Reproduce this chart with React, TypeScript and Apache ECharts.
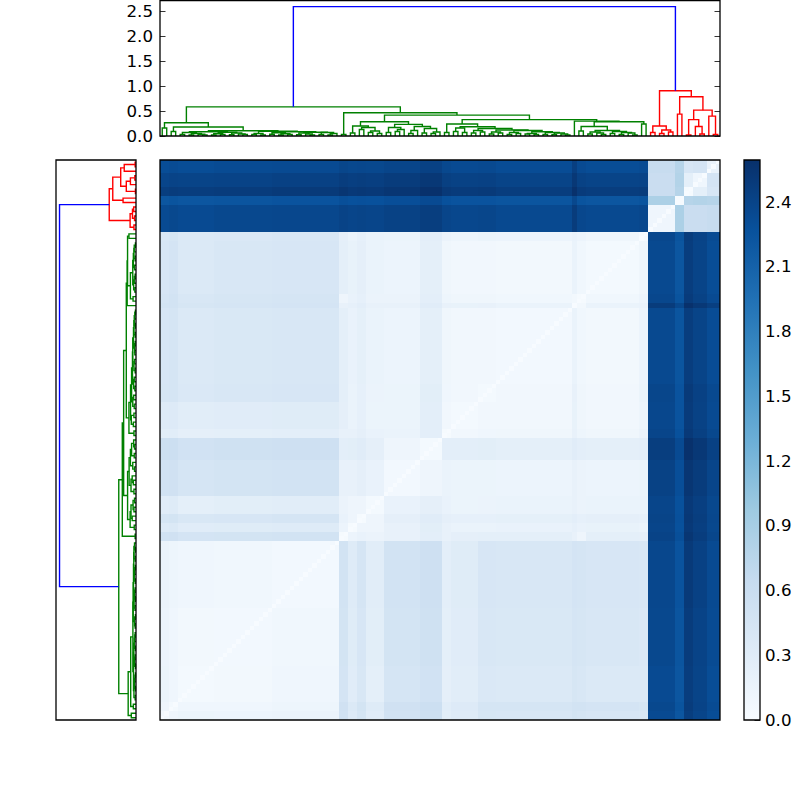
import React, { useEffect, useRef } from "react";
import * as echarts from "echarts";

type Node = 0 | [number, Node, Node];

// ---- Dendrogram merges [height, left, right]; 0 is a leaf ----
const clusterA: Node = [0.266, [0.16, 0, 0], [0.18, [0.09, 0, 0], [0.105,
  [0.085, [0.07, [0.03, 0, 0], [0.05, [0.02, 0, 0], [0.035, 0, [0.02, 0, 0]]]],
    [0.075, [0.045, [0.02, 0, 0], [0.03, 0, 0]], [0.06, [0.025, 0, 0], [0.04, 0, [0.03, 0, 0]]]]],
  [0.095, [0.05, [0.03, 0, 0], [0.02, 0, 0]], [0.085,
    [0.065, [0.035, 0, 0], [0.045, [0.02, 0, 0], [0.03, 0, 0]]],
    [0.075, [0.06, [0.025, 0, 0], [0.04, 0, [0.02, 0, 0]]], [0.07, [0.03, 0, 0], [0.05, [0.02, 0, 0], 0]]]]],
]]];
const clusterBLeft: Node = [0.286,
  [0.2, [0.06, 0, 0], [0.17, [0.13, 0, 0], [0.1, [0.07, 0, 0], [0.05, 0, 0]]]],
  [0.234, [0.17, [0.07, 0, 0], [0.13, [0.09, 0, 0], 0]],
    [0.19, [0.11, [0.05, 0, 0], 0], [0.15, [0.06, 0, 0], [0.08, [0.05, 0, 0], 0]]]],
];
const clusterBMid: Node = [0.24, [0.07, 0, 0], [0.185,
  [0.16, [0.09, 0, 0], [0.07, 0, 0]],
  [0.15, [0.11, [0.06, 0, 0], [0.08, 0, 0]],
    [0.12, [0.08, [0.04, 0, 0], [0.06, 0, 0]],
      [0.11, [0.07, [0.03, 0, 0], [0.05, 0, 0]],
        [0.085, [0.05, [0.04, 0, 0], [0.03, 0, 0]],
          [0.07, [0.03, 0, 0], [0.06, [0.025, 0, 0], [0.04, 0, [0.02, 0, 0]]]]]]]],
]];
const clusterBRight: Node = [0.3, 0, [0.287,
  [0.19, [0.1, 0, 0], [0.11,
    [0.08, [0.04, 0, 0], [0.06, 0, [0.03, 0, 0]]],
    [0.09, [0.05, 0, 0], [0.07, [0.03, 0, 0], [0.06, 0, [0.02, 0, 0]]]]]],
  [0.24, 0, 0],
]];
const clusterB: Node = [0.466, [0.03, 0, 0], [0.42, clusterBLeft, [0.33, clusterBMid, clusterBRight]]];
const greenTree: Node = [0.586, clusterA, clusterB];
const redTree: Node = [0.91,
  [0.2, [0.07, 0, 0], [0.12, [0.05, 0, 0], [0.08, 0, 0]]],
  [0.79, [0.44, 0, 0], [0.52,
    [0.33, [0.02, 0, 0], [0.19, 0, [0.04, 0, 0]]],
    [0.4, 0, [0.03, 0, 0]]]],
];
const rootHeight = 2.6;

// ---- Distance matrix: number of leaves in each run, and the reading for each pair of runs ----
const runLengths = [2, 2, 8, 13, 15, 2, 2, 2, 4, 8, 5, 2, 6, 4, 17, 1, 2, 12, 2, 6, 2, 2, 3, 3];
const runTable = [
  [0.06],
  [0.12, 0.05],
  [0.15, 0.1, 0.05],
  [0.14, 0.1, 0.07, 0.06],
  [0.16, 0.13, 0.1, 0.09, 0.06],
  [0.5, 0.52, 0.46, 0.47, 0.49, 0.03],
  [0.34, 0.36, 0.3, 0.31, 0.33, 0.14, 0.03],
  [0.45, 0.47, 0.41, 0.42, 0.44, 0.18, 0.12, 0.03],
  [0.3, 0.32, 0.25, 0.27, 0.29, 0.16, 0.12, 0.12, 0.05],
  [0.5, 0.52, 0.44, 0.47, 0.49, 0.2, 0.2, 0.24, 0.18, 0.06],
  [0.55, 0.57, 0.5, 0.53, 0.54, 0.26, 0.27, 0.3, 0.24, 0.12, 0.05],
  [0.27, 0.29, 0.24, 0.25, 0.26, 0.2, 0.2, 0.24, 0.18, 0.17, 0.26, 0.03],
  [0.32, 0.34, 0.28, 0.3, 0.31, 0.24, 0.17, 0.22, 0.15, 0.15, 0.26, 0.08, 0.05],
  [0.43, 0.45, 0.38, 0.4, 0.42, 0.25, 0.17, 0.22, 0.16, 0.15, 0.27, 0.1, 0.08, 0.05],
  [0.42, 0.45, 0.37, 0.39, 0.41, 0.25, 0.18, 0.23, 0.17, 0.14, 0.25, 0.11, 0.08, 0.08, 0.06],
  [0.47, 0.49, 0.43, 0.45, 0.46, 0.2, 0.22, 0.26, 0.2, 0.2, 0.3, 0.2, 0.19, 0.2, 0.17, 0.02],
  [0.45, 0.48, 0.4, 0.43, 0.44, 0.12, 0.18, 0.22, 0.16, 0.16, 0.26, 0.13, 0.11, 0.11, 0.09, 0.07, 0.03],
  [0.42, 0.46, 0.37, 0.4, 0.42, 0.25, 0.19, 0.24, 0.17, 0.14, 0.25, 0.11, 0.08, 0.08, 0.07, 0.17, 0.09, 0.05],
  [0.4, 0.43, 0.36, 0.38, 0.4, 0.24, 0.17, 0.22, 0.17, 0.15, 0.26, 0.16, 0.13, 0.15, 0.14, 0.18, 0.14, 0.11, 0.04],
  [2.34, 2.36, 2.34, 2.36, 2.37, 2.41, 2.39, 2.4, 2.39, 2.42, 2.46, 2.39, 2.37, 2.38, 2.35, 2.48, 2.37, 2.35, 2.37, 0.1],
  [2.22, 2.24, 2.22, 2.23, 2.25, 2.29, 2.27, 2.28, 2.27, 2.3, 2.34, 2.27, 2.25, 2.25, 2.23, 2.36, 2.24, 2.22, 2.24, 0.86, 0.03],
  [2.46, 2.48, 2.47, 2.48, 2.5, 2.54, 2.51, 2.52, 2.51, 2.54, 2.59, 2.51, 2.49, 2.5, 2.47, 2.59, 2.49, 2.47, 2.48, 0.6, 0.78, 0.03],
  [2.39, 2.41, 2.4, 2.41, 2.43, 2.47, 2.45, 2.46, 2.45, 2.48, 2.52, 2.44, 2.42, 2.43, 2.4, 2.52, 2.42, 2.4, 2.41, 0.6, 0.8, 0.25, 0.1],
  [2.31, 2.33, 2.31, 2.33, 2.34, 2.38, 2.36, 2.37, 2.36, 2.39, 2.43, 2.36, 2.34, 2.35, 2.32, 2.45, 2.34, 2.31, 2.33, 0.63, 0.78, 0.42, 0.46, 0.18],
];
const maxDistance = 2.595;
const dendroMax = 2.72;
const blues = ["#f7fbff", "#deebf7", "#c6dbef", "#9ecae1", "#6baed6", "#4292c6", "#2171b5", "#08519c", "#08306b"];

// ---- Assemble ----
const runOfLeaf: number[] = runLengths.flatMap((n, run) => Array<number>(n).fill(run));
const leafCount = runOfLeaf.length;
const cells: number[][] = [];
for (let i = 0; i < leafCount; i++) {
  for (let j = 0; j < leafCount; j++) {
    const a = Math.max(runOfLeaf[i], runOfLeaf[j]);
    const b = Math.min(runOfLeaf[i], runOfLeaf[j]);
    cells.push([i, j, i === j ? 0 : runTable[a][b]]);
  }
}

type Link = [number, number, number, number, number];
function collect(): { green: Link[]; red: Link[]; blue: Link[] } {
  let next = 0;
  const walk = (n: Node, out: Link[]): [number, number] => {
    if (n === 0) return [next++ + 0.5, 0];
    const l = walk(n[1], out);
    const r = walk(n[2], out);
    out.push([l[0], l[1], r[0], r[1], n[0]]);
    return [(l[0] + r[0]) / 2, n[0]];
  };
  const green: Link[] = [];
  const red: Link[] = [];
  const g = walk(greenTree, green);
  const r = walk(redTree, red);
  return { green, red, blue: [[g[0], g[1], r[0], r[1], rootHeight]] };
}

const FONT = "DejaVu Sans";
const FONT_SIZE = 16.67;
const TICK = 5.5;
const LINE = 1.4;

function dendroSeries(links: Link[], color: string, axis: number, vertical: boolean) {
  return {
    type: "custom",
    xAxisIndex: axis,
    yAxisIndex: axis,
    silent: true,
    clip: false,
    data: links,
    renderItem: (_: unknown, api: any) => {
      const at = (leaf: number, h: number) => (vertical ? api.coord([leaf, h]) : api.coord([h, leaf]));
      const [x1, h1, x2, h2, h] = [0, 1, 2, 3, 4].map((d) => api.value(d));
      return {
        type: "polyline",
        shape: { points: [at(x1, h1), at(x1, h), at(x2, h), at(x2, h2)] },
        style: { fill: null, stroke: color, lineWidth: LINE },
      };
    },
  };
}

export default function App() {
  const ref = useRef<HTMLDivElement>(null);
  useEffect(() => {
    const chart = echarts.init(ref.current!, undefined, { renderer: "svg", width: 800, height: 800 });
    const { green, red, blue } = collect();
    const label = { fontFamily: FONT, fontSize: FONT_SIZE, color: "#000" };
    const tick = { show: true, inside: true, length: TICK, lineStyle: { color: "#000", width: 0.8 } };
    const noLine = { show: false, onZero: false };
    const frames = [
      { x: 160, y: 0.7, width: 560, height: 135.3 },
      { x: 56, y: 160, width: 80, height: 560 },
      { x: 160, y: 160, width: 560, height: 560 },
      { x: 744, y: 160, width: 16, height: 560 },
    ];
    chart.setOption({
      animation: false,
      backgroundColor: "#fff",
      progressive: 0,
      grid: [
        { left: 160, top: 0.7, width: 560, height: 135.3 },
        { left: 56, top: 160, width: 80, height: 560 },
        { left: 160, top: 160, width: 560, height: 560 },
        { left: 744, top: 160, width: 16, height: 560 },
      ],
      xAxis: [
        { type: "value", gridIndex: 0, min: 0, max: leafCount, show: false },
        { type: "value", gridIndex: 1, min: 0, max: dendroMax, inverse: true, show: false },
        { type: "value", gridIndex: 2, min: 0, max: leafCount, show: false },
        { type: "category", gridIndex: 3, data: ["bar"], show: false },
        { type: "value", gridIndex: 0, min: 0, max: leafCount, show: false },
      ],
      yAxis: [
        {
          type: "value", gridIndex: 0, min: 0, max: dendroMax, interval: 0.5, position: "left",
          splitLine: { show: false }, axisLine: noLine, axisTick: tick,
          axisLabel: { ...label, margin: 7, showMaxLabel: false, formatter: (v: number) => v.toFixed(1) },
        },
        { type: "value", gridIndex: 1, min: 0, max: leafCount, show: false },
        { type: "value", gridIndex: 2, min: 0, max: leafCount, show: false },
        {
          type: "value", gridIndex: 3, min: 0, max: maxDistance, interval: 0.3, position: "right",
          splitLine: { show: false }, axisLine: noLine, axisTick: tick,
          axisLabel: { ...label, margin: 5, showMaxLabel: false, formatter: (v: number) => v.toFixed(1) },
        },
        {
          type: "value", gridIndex: 0, min: 0, max: dendroMax, interval: 0.5, position: "right",
          splitLine: { show: false }, axisLine: noLine, axisTick: tick,
          axisLabel: { show: false },
        },
      ],
      visualMap: {
        show: false, min: 0, max: maxDistance, dimension: 2, seriesIndex: 0,
        inRange: { color: blues },
      },
      series: [
        {
          type: "custom", xAxisIndex: 2, yAxisIndex: 2, data: cells, silent: true,
          progressive: 0,
          progressiveThreshold: 1000000,
          renderItem: (_: unknown, api: any) => {
            const i = api.value(0);
            const j = api.value(1);
            const a = api.coord([i, j]);
            const b = api.coord([i + 1, j + 1]);
            const x = Math.round(a[0]);
            const y = Math.round(b[1]);
            return {
              type: "rect",
              shape: { x, y, width: Math.round(b[0]) - x, height: Math.round(a[1]) - y },
              style: { fill: api.visual("color") },
            };
          },
        },
        dendroSeries(green, "#008000", 0, true),
        dendroSeries(red, "#ff0000", 0, true),
        dendroSeries(blue, "#0000ff", 0, true),
        dendroSeries(green, "#008000", 1, false),
        dendroSeries(red, "#ff0000", 1, false),
        dendroSeries(blue, "#0000ff", 1, false),
        {
          type: "custom", xAxisIndex: 3, yAxisIndex: 3, silent: true, data: [[0, 0, maxDistance]],
          renderItem: (_: unknown, api: any) => {
            const top = api.coord([0, maxDistance]);
            const bottom = api.coord([0, 0]);
            const w = api.size([1, 0])[0];
            return {
              type: "rect",
              shape: { x: top[0] - w / 2, y: top[1], width: w, height: bottom[1] - top[1] },
              style: {
                fill: new echarts.graphic.LinearGradient(0, 1, 0, 0,
                  blues.map((color, i) => ({ offset: i / (blues.length - 1), color }))),
              },
            };
          },
        },
        {
          // keeps the right-hand tick axis of the top panel alive
          type: "custom", xAxisIndex: 4, yAxisIndex: 4, silent: true, data: [],
          renderItem: () => null,
        },
      ],
      graphic: frames.map((f) => ({
        type: "rect", z: 100, silent: true, shape: f,
        style: { fill: "none", stroke: "#000", lineWidth: 1.3 },
      })),
    });
    return () => chart.dispose();
  }, []);
  return <div ref={ref} style={{ position: "fixed", left: 0, top: 0, width: 800, height: 800 }} />;
}
